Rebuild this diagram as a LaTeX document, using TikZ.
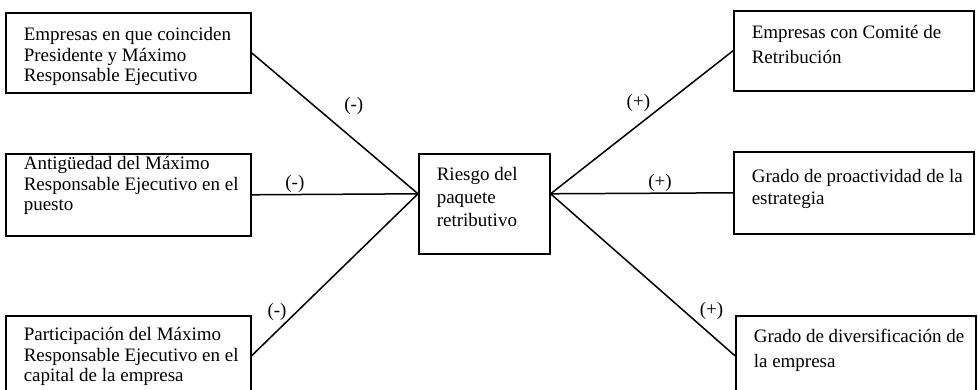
\documentclass[tikz,border=0pt]{standalone}
\usepackage{fontspec}
\setmainfont{Liberation Serif}
\newcommand{\texto}[4]{\parbox[c][#2][t]{#1}{\raggedright\leftskip=18pt\vspace*{\dimexpr#3-\ht\strutbox\relax}\strut#4}}
\begin{document}
\begin{tikzpicture}[x=1pt, y=1pt,
		caja/.style={draw, line width=1.6pt, inner sep=0pt, anchor=north west, font=\fontsize{19}{20.5}\selectfont},
		conector/.style={line width=1.5pt},
		signo/.style={inner sep=1pt, font=\fontsize{19}{20}\selectfont}]
		\useasboundingbox (0,0) rectangle (978,-390);
		\clip (0,0) rectangle (978,-390);

		% factores de la izquierda
		\node[caja] (presidente) at (5,-12) {\texto{245pt}{80pt}{28pt}{Empresas en que coinciden\\Presidente y Máximo\\Responsable Ejecutivo}};
		\node[caja] (antiguedad) at (5,-153) {\texto{245pt}{82pt}{16pt}{Antigüedad del Máximo\\Responsable Ejecutivo en el\\puesto}};
		\node[caja] (participacion) at (5,-315) {\texto{245pt}{80pt}{25pt}{Participación del Máximo\\Responsable Ejecutivo en el\\capital de la empresa}};

		% riesgo
		\node[caja, font=\fontsize{19}{23}\selectfont] (riesgo) at (418,-153) {\texto{131pt}{100pt}{27pt}{Riesgo del\\paquete\\retributivo}};
		\coordinate (izq) at ([yshift=10pt]riesgo.west);
		\coordinate (der) at ([yshift=10pt]riesgo.east);

		% factores de la derecha
		\node[caja, font=\fontsize{19}{25}\selectfont] (comite) at (733,-10) {\texto{240pt}{80pt}{28pt}{Empresas con Comité de\\Retribución}};
		\node[caja, font=\fontsize{19}{22}\selectfont] (proactividad) at (733,-151) {\texto{240pt}{82pt}{31pt}{Grado de proactividad de la\\estrategia}};
		\node[caja, font=\fontsize{19}{25}\selectfont] (diversificacion) at (735,-315) {\texto{240pt}{80pt}{27pt}{Grado de diversificación de\\la empresa}};

		\begin{scope}[conector]
			\draw (presidente.east) -- node[signo, pos=.515, xshift=16.5pt, yshift=19.6pt] {(-)} (izq);
			\draw (antiguedad.east) -- node[signo, pos=.26, above] {(-)} (izq);
			\draw (participacion.east) -- node[signo, pos=.21, xshift=-9.5pt, yshift=10pt] {(-)} (izq);
			\draw (der) -- node[signo, pos=.54, xshift=-10.7pt, yshift=14pt] {(+)} (comite.west);
			\draw (der) -- node[signo, pos=.6, above] {(+)} (proactividad.west);
			\draw (der) -- node[signo, pos=.81, xshift=11.6pt, yshift=14pt] {(+)} (diversificacion.west);
		\end{scope}
	\end{tikzpicture}
\end{document}
